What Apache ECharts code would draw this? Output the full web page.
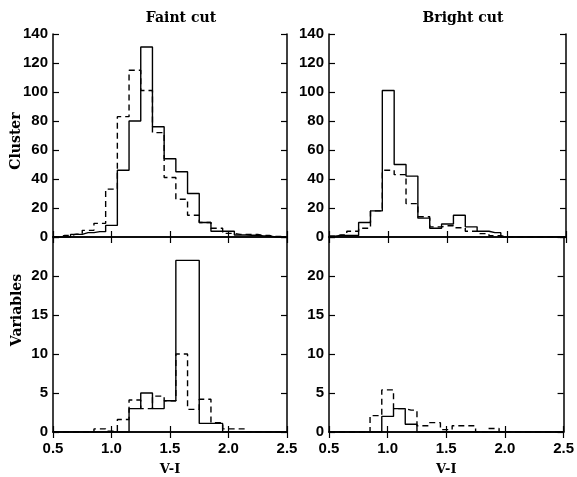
<!DOCTYPE html>
<html>
<head>
<meta charset="utf-8">
<script src="https://cdn.jsdelivr.net/npm/echarts@6/dist/echarts.min.js"></script>
<style>
  html, body { margin: 0; padding: 0; background: #fff; }
  #main { width: 577px; height: 477px; }
</style>
</head>
<body>
<div id="main"></div>
<script>
// bin centres (V-I), bins 0.1 wide
var binCenters = [0.5, 0.6, 0.7, 0.8, 0.9, 1.0, 1.1, 1.2, 1.3, 1.4, 1.5,
                  1.6, 1.7, 1.8, 1.9, 2.0, 2.1, 2.2, 2.3, 2.4, 2.5];

// Faint cut, cluster
var faintClusterSolid  = [0, 0, 1.8, 3, 3.7, 8, 46, 80, 131, 76, 54, 45, 30, 10, 4, 4, 1.4, 1.2, 0.7, 0, 0];
var faintClusterDashed = [0, 1, 2, 4.6, 9.4, 33, 83, 115, 101, 72, 41, 26, 15, 10, 6, 2.5, 1.8, 1.8, 1, 0.3, 0];
// Bright cut, cluster
var brightClusterSolid  = [0.5, 1, 1, 10, 18, 101, 50, 42, 13, 6, 9, 15, 7, 4, 3, 0, 0, 0, 0, 0, 0];
var brightClusterDashed = [0.5, 1.4, 4, 6, 18, 46, 43, 23, 14, 7, 7.8, 6.4, 4, 2.3, 0.9, 0, 0, 0, 0, 0, 0];
// Faint cut, variables
var faintVarSolid  = [0, 0, 0, 0, 0, 0, 0, 3, 5, 3, 4, 22, 22, 1.1, 1.1, 0, 0, 0, 0, 0, 0];
var faintVarDashed = [0, 0, 0, 0, 0.4, 0.1, 1.6, 4.1, 3, 4.6, 4, 10, 2.9, 4.2, 1.2, 0.4, 0.4, 0, 0, 0, 0];
// Bright cut, variables
var brightVarSolid  = [0, 0, 0, 0, 0, 2, 3, 1, 0, 0, 0, 0, 0, 0, 0, 0, 0, 0, 0, 0, 0];
var brightVarDashed = [0, 0, 0, 0, 2.1, 5.4, 3, 2.8, 0.8, 1.2, 0.3, 0.8, 0.8, 0, 0.45, 0, 0, 0, 0, 0, 0];

var clusterMax = 140, clusterStep = 20;
var varMax = 25, varStep = 5;

var chart = echarts.init(document.getElementById('main'));

var tickFont = { color: '#000', fontFamily: 'Liberation Sans', fontWeight: 'bold', fontSize: 15 };
var serifFont = 'DejaVu Serif';

var grids = [
  { left: 53, top: 34, width: 234, height: 203 },
  { left: 53, top: 237, width: 234, height: 202 },
  { left: 329, top: 34, width: 237, height: 203 },
  { left: 329, top: 237, width: 237, height: 202 }
];

var xAxes = [], yAxes = [];
grids.forEach(function (g, i) {
  var bottomRow = (i === 1 || i === 3);
  var line = { show: true, lineStyle: { color: '#000', width: 1.5 } };
  var tick = { show: true, inside: true, length: 6, lineStyle: { color: '#000', width: 1.2 } };
  xAxes.push({
    type: 'value', gridIndex: i, position: 'bottom', min: 0.5, max: 2.5, interval: 0.5,
    axisLine: line, axisTick: tick, splitLine: { show: false },
    axisLabel: bottomRow ? Object.assign({ show: true, margin: 9,
      formatter: function (v) { return v.toFixed(1); } }, tickFont) : { show: false },
    name: bottomRow ? 'V-I' : '', nameLocation: 'middle', nameGap: 31,
    nameTextStyle: { color: '#000', fontFamily: serifFont, fontWeight: 'bold', fontSize: 13 }
  });
  xAxes.push({
    type: 'value', gridIndex: i, position: 'top', min: 0.5, max: 2.5, interval: 0.5,
    axisLine: line, axisTick: tick, splitLine: { show: false }, axisLabel: { show: false }
  });
  var ymax = bottomRow ? varMax : clusterMax;
  var ystep = bottomRow ? varStep : clusterStep;
  yAxes.push({
    type: 'value', gridIndex: i, position: 'left', min: 0, max: ymax, interval: ystep,
    axisLine: line, axisTick: tick, splitLine: { show: false },
    axisLabel: Object.assign({ margin: 5, formatter: function (v) {
      return (bottomRow && v === varMax) ? '' : String(v);
    } }, tickFont)
  });
  yAxes.push({
    type: 'value', gridIndex: i, position: 'right', min: 0, max: ymax, interval: ystep,
    axisLine: line, axisTick: tick, splitLine: { show: false }, axisLabel: { show: false }
  });
});

function pairs(vals) {
  return binCenters.map(function (x, k) { return [x, vals[k]]; });
}

function hist(gi, vals, dashed) {
  return {
    type: 'line', step: 'middle', xAxisIndex: gi * 2, yAxisIndex: gi * 2,
    showSymbol: false, symbol: 'none', silent: true, animation: false,
    lineStyle: { color: '#000', width: 1.4, type: dashed ? [6, 4] : 'solid' },
    data: pairs(vals)
  };
}

var option = {
  backgroundColor: '#fff',
  animation: false,
  title: [
    { text: 'Faint cut', left: 176, top: 6, textAlign: 'center',
      textStyle: { fontFamily: serifFont, fontWeight: 'bold', fontSize: 14, color: '#000' } },
    { text: 'Bright cut', left: 458, top: 6, textAlign: 'center',
      textStyle: { fontFamily: serifFont, fontWeight: 'bold', fontSize: 14, color: '#000' } }
  ],
  grid: grids,
  xAxis: xAxes,
  yAxis: yAxes,
  graphic: [
    { type: 'text', x: 16, y: 141, rotation: Math.PI / 2,
      style: { text: 'Cluster', fill: '#000', font: 'bold 14px "DejaVu Serif"',
               textAlign: 'center', textVerticalAlign: 'middle' } },
    { type: 'text', x: 17, y: 310, rotation: Math.PI / 2,
      style: { text: 'Variables', fill: '#000', font: 'bold 14px "DejaVu Serif"',
               textAlign: 'center', textVerticalAlign: 'middle' } }
  ],
  series: [
    hist(0, faintClusterSolid, false),
    hist(0, faintClusterDashed, true),
    hist(1, faintVarSolid, false),
    hist(1, faintVarDashed, true),
    hist(2, brightClusterSolid, false),
    hist(2, brightClusterDashed, true),
    hist(3, brightVarSolid, false),
    hist(3, brightVarDashed, true)
  ]
};

chart.setOption(option);
</script>
</body>
</html>
